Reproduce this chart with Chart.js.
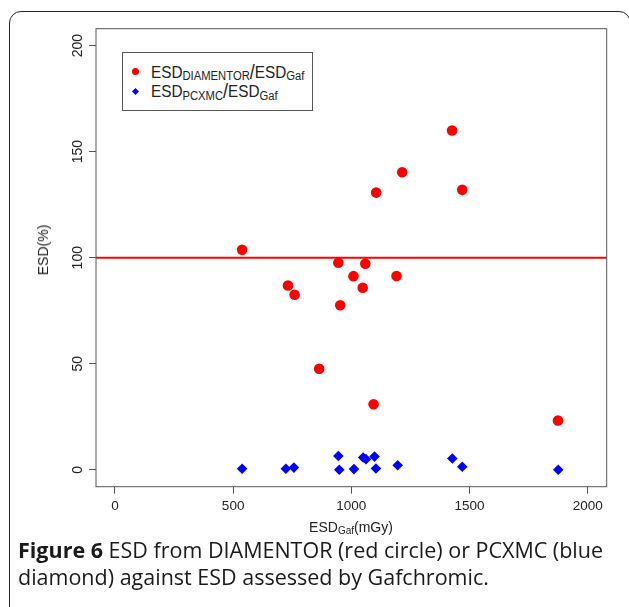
<!DOCTYPE html>
<html><head><meta charset="utf-8">
<script src="https://cdn.jsdelivr.net/npm/chart.js@4"></script>
<style>
html,body{margin:0;padding:0;background:#fff;}
#wrap{position:relative;width:629px;height:607px;overflow:hidden;background:#fff;}
#frame{position:absolute;left:9px;top:11px;width:622px;height:620px;box-sizing:border-box;border:1.5px solid #222;border-radius:12px;}
canvas{position:absolute;left:0;top:0;}
.lab{position:absolute;font-family:"Liberation Sans",Arial,sans-serif;color:#222;white-space:nowrap;}
#legend{position:absolute;left:122px;top:52px;width:191px;height:59px;box-sizing:border-box;border:1px solid #555;background:#fff;}
.leg{font-size:17px;line-height:17px;transform:scaleX(0.9);transform-origin:0 0;}
.leg sub{font-size:12.5px;vertical-align:baseline;position:relative;top:2.5px;}
.leg .sl{font-size:20px;position:relative;top:1px;}
#m1{position:absolute;left:132px;top:68px;width:7px;height:7px;border-radius:50%;background:#ff0000;}
#m2{position:absolute;left:133px;top:88.5px;width:5px;height:5px;background:#0000ff;transform:rotate(45deg);}
#xt{font-size:14px;line-height:14px;left:351px;top:519.6px;transform:translateX(-50%);}
#xt sub{font-size:10px;vertical-align:baseline;position:relative;top:2px;}
#yt{font-size:14px;line-height:14px;left:43px;top:250px;transform:translate(-50%,-50%) rotate(-90deg);}
#cap{position:absolute;left:18px;top:535.9px;font-family:"Open Sans","Noto Sans",sans-serif;font-size:21.5px;line-height:27px;color:#1a1a1a;white-space:nowrap;}
</style>
</head><body>
<div id="wrap">
  <canvas id="c" width="629" height="607"></canvas>
  <div id="frame"></div>
  <div id="legend"></div>
  <div id="m1"></div><div id="m2"></div>
  <div class="lab leg" style="left:151px;top:62.9px;">ESD<sub>DIAMENTOR</sub><span class="sl">/</span>ESD<sub>Gaf</sub></div>
  <div class="lab leg" style="left:151px;top:82.3px;">ESD<sub>PCXMC</sub><span class="sl">/</span>ESD<sub>Gaf</sub></div>
  <div class="lab" id="xt">ESD<sub>Gaf</sub>(mGy)</div>
  <div class="lab" id="yt">ESD(%)</div>
  <div id="cap"><b>Figure 6</b> ESD from DIAMENTOR (red circle) or PCXMC (blue<br>diamond) against ESD assessed by Gafchromic.</div>
</div>
<script>
// Data
const gafDiamentor = [538, 732, 760, 864, 945, 953, 1009, 1048, 1059, 1094, 1105, 1191, 1215, 1426, 1469, 1874];
const diamentorRatio = [103.7, 86.9, 82.5, 47.6, 97.6, 77.6, 91.3, 85.8, 97.2, 30.9, 130.7, 91.4, 140.3, 160.0, 132.0, 23.2];
const gafPcxmc = [538, 723, 757, 945, 949, 1011, 1050, 1062, 1098, 1104, 1196, 1427, 1469, 1875];
const pcxmcRatio = [0.5, 0.5, 1.0, 6.5, 0.0, 0.3, 5.8, 5.0, 6.2, 0.6, 2.1, 5.3, 1.4, 0.0];
const xTicks = [0, 500, 1000, 1500, 2000];
const xTickLabels = ['0', '500', '1000', '1500', '2000'];
const yTicks = [0, 50, 100, 150, 200];
const yTickLabels = ['0', '50', '100', '150', '200'];
const refLine = 100;

const FONT = '"Liberation Sans", Arial, sans-serif';

const refLinePlugin = {
  id: 'refLine',
  beforeDatasetsDraw(chart) {
    const {ctx, chartArea: a, scales: {y}} = chart;
    const py = y.getPixelForValue(refLine);
    ctx.save();
    ctx.strokeStyle = '#ff0000';
    ctx.lineWidth = 2;
    ctx.beginPath();
    ctx.moveTo(a.left, py);
    ctx.lineTo(a.right, py);
    ctx.stroke();
    ctx.restore();
  }
};

const boxPlugin = {
  id: 'rBox',
  afterDraw(chart) {
    const {ctx, chartArea: a, scales: {y}} = chart;
    ctx.save();
    ctx.strokeStyle = '#555';
    ctx.lineWidth = 1;
    ctx.strokeRect(a.left, a.top, a.right - a.left, a.bottom - a.top);
    ctx.fillStyle = '#222';
    ctx.font = '14px ' + FONT;
    ctx.textAlign = 'center';
    ctx.textBaseline = 'middle';
    y.ticks.forEach((t, i) => {
      const py = y.getPixelForValue(t.value);
      ctx.save();
      ctx.translate(a.left - 18, py);
      ctx.rotate(-Math.PI / 2);
      ctx.fillText(yTickLabels[i], 0, 0);
      ctx.restore();
    });
    ctx.restore();
  }
};

const gridOpts = {display: true, drawOnChartArea: false, drawTicks: true, tickLength: 7, color: '#555', lineWidth: 1};

new Chart(document.getElementById('c'), {
  type: 'scatter',
  data: {
    datasets: [
      {
        label: 'ESD DIAMENTOR / ESD Gaf',
        data: gafDiamentor.map((x, i) => ({x: x, y: diamentorRatio[i]})),
        pointStyle: 'circle',
        pointRadius: 5.3,
        pointHoverRadius: 5.3,
        backgroundColor: '#ff0000',
        borderWidth: 0
      },
      {
        label: 'ESD PCXMC / ESD Gaf',
        data: gafPcxmc.map((x, i) => ({x: x, y: pcxmcRatio[i]})),
        pointStyle: 'rectRot',
        pointRadius: 5.3,
        pointHoverRadius: 5.3,
        backgroundColor: '#0000ff',
        borderWidth: 0
      }
    ]
  },
  options: {
    responsive: false,
    animation: false,
    events: [],
    layout: {padding: {left: 0, top: 28.7, right: 22.3, bottom: 0}},
    plugins: {legend: {display: false}, tooltip: {enabled: false}},
    scales: {
      x: {
        type: 'linear', min: -80, max: 2080,
        afterBuildTicks: s => { s.ticks = xTicks.map(v => ({value: v})); },
        afterFit: s => { s.height = 120.3; },
        grid: gridOpts,
        border: {display: false},
        ticks: {callback: (v, i) => xTickLabels[i], font: {family: FONT, size: 13.5}, color: '#222', padding: 4, maxRotation: 0, autoSkip: false}
      },
      y: {
        type: 'linear', min: -8, max: 208,
        afterBuildTicks: s => { s.ticks = yTicks.map(v => ({value: v})); },
        afterFit: s => { s.width = 96; },
        grid: gridOpts,
        border: {display: false},
        ticks: {display: false}
      }
    }
  },
  plugins: [refLinePlugin, boxPlugin]
});
</script>
</body></html>
